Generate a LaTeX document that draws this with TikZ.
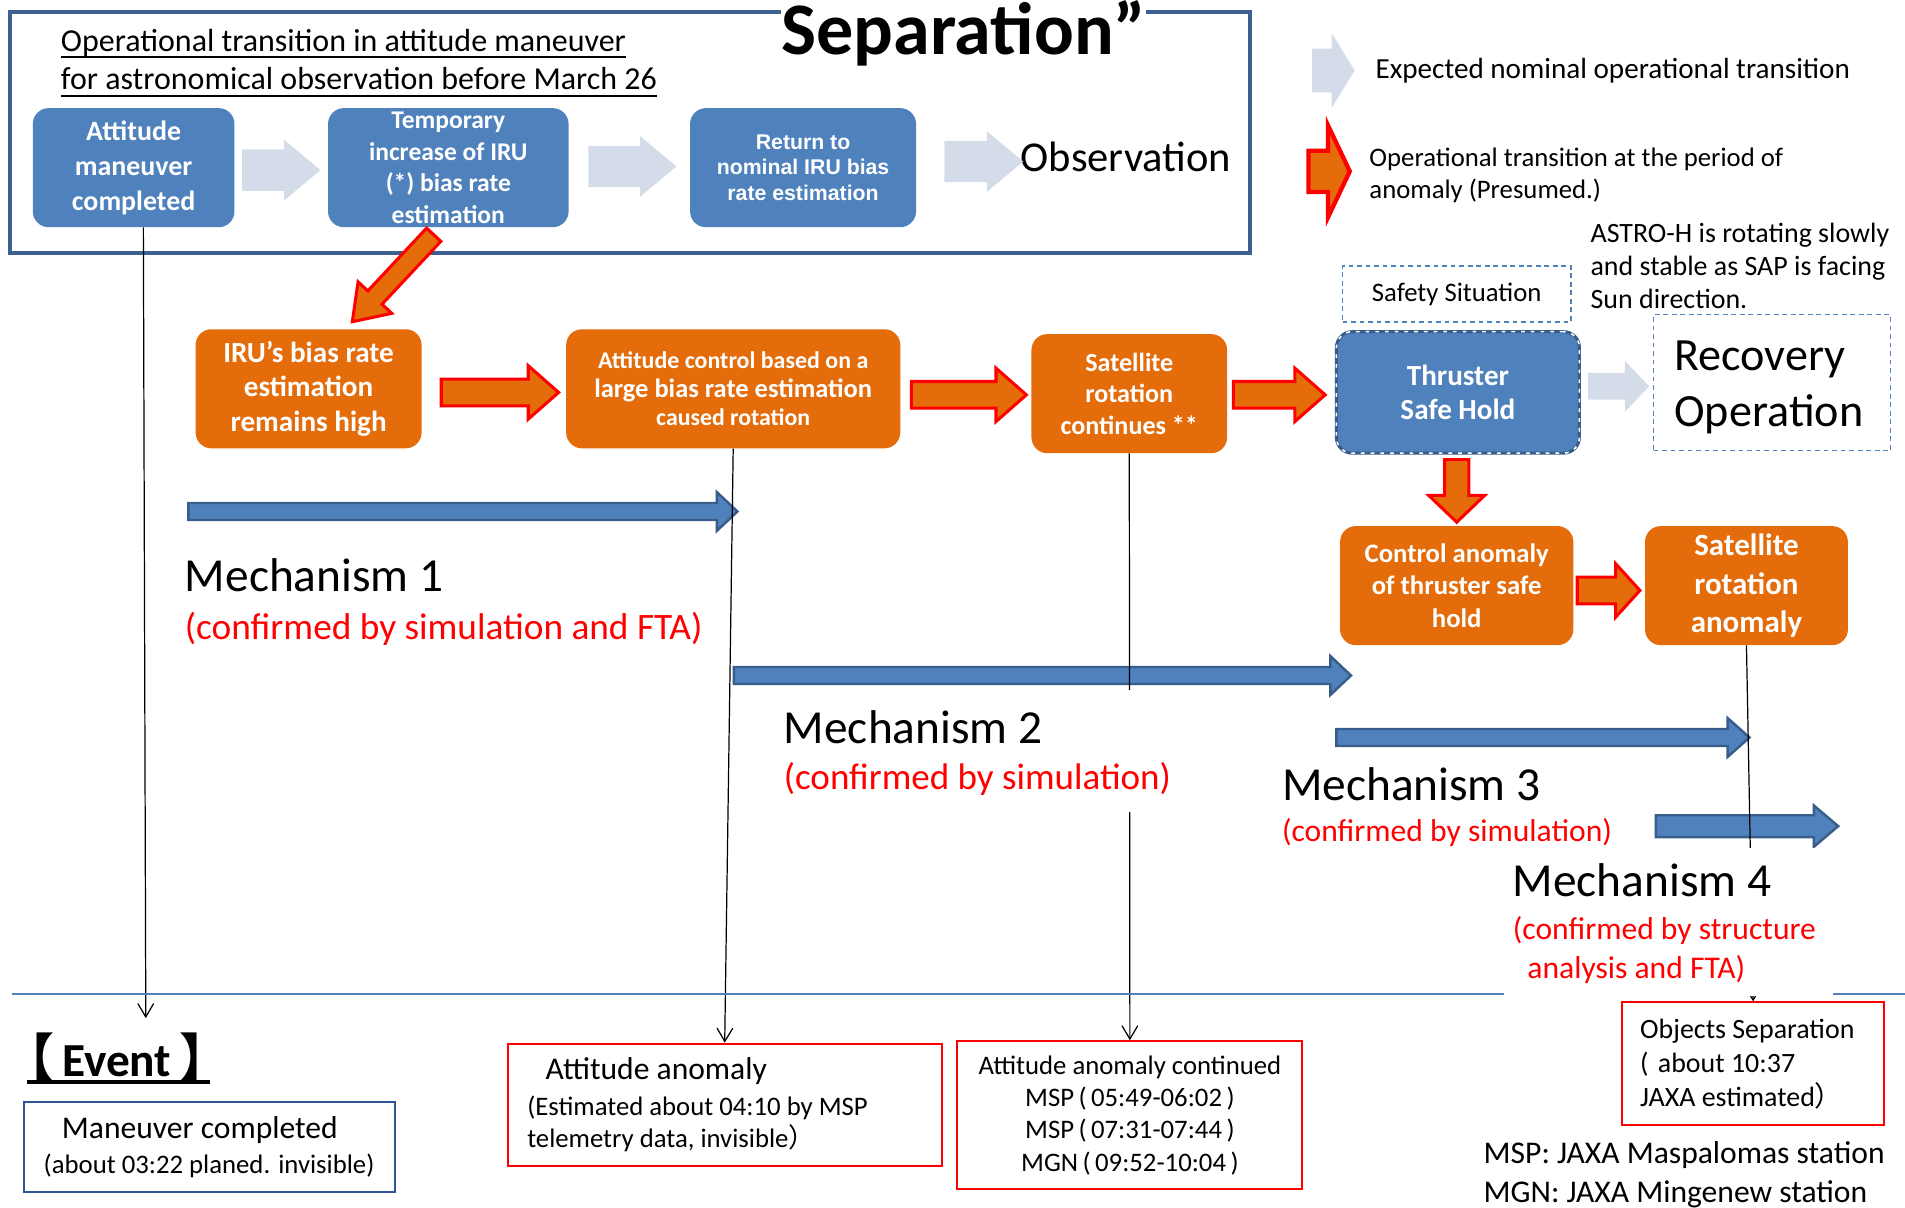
\documentclass[tikz,border=0pt]{standalone}
\usepackage{fontspec}
\setmainfont{Carlito}
\newfontfamily\cjk{Noto Sans CJK JP}
\newfontfamily\arialf{Liberation Sans}
\usetikzlibrary{calc,arrows.meta}
\definecolor{boxblue}{HTML}{4F81BD}
\definecolor{darkblue}{HTML}{385D8A}
\definecolor{framecol}{HTML}{3C6090}
\definecolor{boxorange}{HTML}{E46C0A}
\definecolor{lightarr}{HTML}{D5DCE9}
\definecolor{eventblue}{HTML}{2F5597}
\newcommand\fs[2]{\fontsize{#1}{#2}\selectfont}
\newcommand\frp{{\cjk ）}}
\newcommand\myul[3]{\leavevmode\setbox0=\hbox{#3}\rlap{\vrule height -#1 depth \dimexpr#1+#2\relax width \wd0}\box0}
% #1 style, #2 from, #3 to, #4 half shaft, #5 half head, #6 head length
\newcommand\blockarrow[6]{%
 \path[#1] let \p1=(#2), \p2=(#3), \n1={atan2(\y2-\y1,\x2-\x1)}, \n2={veclen(\x2-\x1,\y2-\y1)} in
  ($(\p1)+({\n1+90}:#4)$) -- ($(\p1)+({\n1}:{\n2-#6})+({\n1+90}:#4)$) -- ($(\p1)+({\n1}:{\n2-#6})+({\n1+90}:#5)$) -- (\p2)
  -- ($(\p1)+({\n1}:{\n2-#6})+({\n1-90}:#5)$) -- ($(\p1)+({\n1}:{\n2-#6})+({\n1-90}:#4)$) -- ($(\p1)+({\n1-90}:#4)$) -- cycle;}
\tikzset{
 bluebox/.style={rectangle, rounded corners=13pt, fill=boxblue, text=white, align=center, inner sep=0pt},
 orangebox/.style={rectangle, rounded corners=13pt, fill=boxorange, text=white, align=center, inner sep=0pt},
 nomarrow/.style={fill=lightarr},
 anomarrow/.style={fill=boxorange, draw=red, line width=2.5pt, line join=miter},
 mecharrow/.style={fill=boxblue, draw=darkblue, line width=2pt, line join=miter},
 eventbox/.style={rectangle, draw=red, line width=1.6pt, inner sep=0pt},
 timeline/.style={draw=black, line width=1pt, -{Straight Barb[length=11pt,width=13pt]}},
 plain/.style={inner sep=0pt, anchor=base west},
 dashbox/.style={rectangle, draw=boxblue, line width=1.2pt, dash pattern=on 4pt off 3pt, inner sep=0pt},
}
\begin{document}
\begin{tikzpicture}[x=1pt,y=1pt]
\useasboundingbox (0,0) rectangle (1568,-994);
% top frame
\node[draw=framecol, line width=3.5pt, minimum width=1021pt, minimum height=198pt, inner sep=0pt] (frame) at (518.5,-109) {};
\node[plain, fill=white, font=\bfseries\fs{61}{70}] (sep) at (643,-45) {Separation”};
\node[plain, font=\fs{26.3}{30}] (title1) at (50,-42) {\myul{4pt}{1.6pt}{Operational transition in attitude maneuver}};
\node[plain, font=\fs{26.3}{30}] (title2) at (50,-74) {\myul{4pt}{1.6pt}{for astronomical observation before March 26}};
% blue boxes
\node[bluebox, minimum width=166pt, minimum height=98pt, font=\bfseries\fs{23}{29}] (b1) at (110,-138) {\raisebox{-3pt}{\parbox{150pt}{\centering Attitude\\maneuver\\completed}}};
\node[bluebox, minimum width=198pt, minimum height=98pt, font=\bfseries\fs{21}{26}] (b2) at (369,-138) {\raisebox{-2pt}{\parbox{190pt}{\centering Temporary\\increase of IRU\\(*) bias rate\\estimation}}};
\node[bluebox, minimum width=186pt, minimum height=98pt, font=\arialf\bfseries\fs{17.5}{21}] (b3) at (661,-138) {Return to\\nominal IRU bias\\rate estimation};
\node[plain, font=\fs{35}{42}] (obs) at (840,-141) {Observation};
% nominal arrows
\blockarrow{nomarrow}{$(b1.east)+(6,-2)$}{$(b2.west)+(-6,-2)$}{17}{25}{30}
\blockarrow{nomarrow}{$(b2.east)+(16,1)$}{$(b3.west)+(-11,1)$}{17}{25}{30}
\blockarrow{nomarrow}{$(b3.east)+(23,5)$}{$(b3.east)+(88,5)$}{17}{25}{30}
% legend
\coordinate (lg1a) at (1080,-58);
\coordinate (lg1b) at (1115,-58);
\blockarrow{nomarrow}{lg1a}{lg1b}{18}{31}{19}
\coordinate (lg2a) at (1077,-141);
\coordinate (lg2b) at (1111,-141);
\blockarrow{anomarrow, line width=3.5pt}{lg2a}{lg2b}{17}{38}{18}
\node[plain, font=\fs{24}{28}] (lgt1) at (1132,-65) {Expected nominal operational transition};
\node[plain, font=\fs{22}{26}] (lgt2) at (1127,-137) {Operational transition at the period of};
\node[plain, font=\fs{22}{26}] (lgt3) at (1127,-163) {anomaly (Presumed.)};
\node[plain, font=\fs{23}{27}] (astro1) at (1309,-200) {ASTRO-H is rotating slowly};
\node[plain, font=\fs{23}{27}] (astro2) at (1309,-227) {and stable as SAP is facing};
\node[plain, font=\fs{23}{27}] (astro3) at (1309,-254) {Sun direction.};
% safety
\node[dashbox, minimum width=188pt, minimum height=46pt, font=\fs{22}{26}] (safety) at (1199,-242) {Safety Situation};
\node[dashbox, minimum width=195pt, minimum height=112pt] (rec) at (1458.5,-315) {};
\node[plain, font=\fs{38}{44}] (recA) at (1378,-305) {Recovery};
\node[plain, font=\fs{38}{44}] (recB) at (1378,-351) {Operation};
% orange boxes
\node[orangebox, minimum width=186pt, minimum height=98pt, font=\bfseries\fs{24}{28.5}] (iru) at (254,-320) {\raisebox{-2pt}{\parbox{180pt}{\centering IRU’s bias rate\\estimation\\remains high}}};
\node[orangebox, minimum width=275pt, minimum height=98pt, font=\bfseries\fs{20}{23.5}] (att) at (603.5,-320) {{\fs{19.7}{23.5}Attitude control based on a}\\{\fs{21.8}{23.5}large bias rate estimation}\\{\fs{19.6}{23.5}caused rotation}};
\node[orangebox, minimum width=161pt, minimum height=98pt, font=\bfseries\fs{21.5}{26}] (sat) at (929.5,-324) {Satellite\\rotation\\continues **};
\node[bluebox, minimum width=200pt, minimum height=100pt, draw=darkblue, line width=2.5pt, postaction={draw=white, line width=1.3pt, dash pattern=on 3pt off 5pt}, font=\bfseries\fs{24}{28}] (thr) at (1200,-323) {Thruster\\Safe Hold};
\node[orangebox, minimum width=192pt, minimum height=98pt, font=\bfseries\fs{22}{26.5}] (ctl) at (1199,-482) {Control anomaly\\of thruster safe\\hold};
\node[orangebox, minimum width=167pt, minimum height=98pt, font=\bfseries\fs{25.5}{31.5}] (sra) at (1437.5,-482) {\raisebox{-3pt}{\parbox{160pt}{\centering Satellite\\rotation\\anomaly}}};
% anomaly arrows
\blockarrow{anomarrow}{$(b2.south)+(-12,-6)$}{$(iru.north)+(36,6)$}{8}{19}{27}
\blockarrow{anomarrow}{$(iru.east)+(16,-3)$}{$(att.west)+(-6,-3)$}{11}{22}{25}
\blockarrow{anomarrow}{$(att.east)+(9,-5)$}{$(sat.west)+(-4,-1)$}{11}{22}{25}
\blockarrow{anomarrow}{$(sat.east)+(5,-1)$}{$(thr.west)+(-8,-2)$}{11}{22}{25}
\blockarrow{anomarrow}{$(thr.south)+(-1,-4)$}{$(ctl.north)+(0,3)$}{10}{23}{22}
\blockarrow{anomarrow}{$(ctl.east)+(3,-4)$}{$(sra.west)+(-4,-4)$}{11}{22}{20}
\blockarrow{nomarrow}{$(thr.east)+(6,5)$}{$(rec.west)+(-3,-3)$}{11}{21}{20}
% mechanism arrows
\coordinate (m1a) at (155,-421); \coordinate (m1b) at (607,-421);
\coordinate (m2a) at (604,-556); \coordinate (m2b) at (1112,-556);
\coordinate (m3a) at (1100,-607); \coordinate (m3b) at (1440,-607);
\coordinate (m4a) at (1363,-680); \coordinate (m4b) at (1513,-680);
\blockarrow{mecharrow}{m1a}{m1b}{7}{16}{17}
\blockarrow{mecharrow}{m2a}{m2b}{7}{16}{17}
\blockarrow{mecharrow}{m3a}{m3b}{7}{16}{18}
\blockarrow{mecharrow}{m4a}{m4b}{9}{17}{20}
% event boxes
\node[rectangle, draw=eventblue, line width=1.6pt, minimum width=305pt, minimum height=74pt, inner sep=0pt, inner xsep=16pt, text width=273pt, align=flush left, font=\fs{22}{29}] (man) at (172.5,-944) {\hspace*{15pt}{\fs{26}{29}Maneuver completed}\\\mbox{(about 03:22 planed. invisible)}};
\node[eventbox, minimum width=357pt, minimum height=101pt, text width=325pt, inner xsep=16pt, align=flush left, font=\fs{22}{27}] (aan) at (596.5,-909.5) {\hspace*{15pt}{\fs{26}{29}Attitude anomaly}\\[2pt](Estimated about 04:10 by MSP\\telemetry data, invisible\frp};
\node[eventbox, minimum width=284pt, minimum height=122pt, align=center, font=\fs{22}{26.7}] (acn) at (930,-918) {Attitude anomaly continued\\MSP\,(\,05:49-06:02\,)\\MSP\,(\,07:31-07:44\,)\\MGN\,(\,09:52-10:04\,)};
\node[eventbox, minimum width=216pt, minimum height=101pt, text width=186pt, inner xsep=15pt, align=flush left, font=\fs{23}{28}] (obj) at (1443,-875.5) {Objects Separation\\(\,\,about 10:37\\JAXA estimated\frp};
% timelines
\coordinate (v1top) at ($(b1.south)+(8,0)$);
\coordinate (v1end) at (120,-838);
\draw[timeline] (v1top) -- (v1end);
\draw[timeline] (att.south) -- (aan.north);
\draw[timeline] (sat.south) -- (acn.north);
\draw[timeline] (sra.south) -- (obj.north);
\coordinate (hl1) at (10,-818); \coordinate (hl2) at (1568,-818);
\draw[boxblue, line width=1.5pt] (hl1) -- (hl2);
% mechanism labels
\node[plain, font=\fs{39}{44}] (mech1) at (152,-487) {Mechanism 1};
\node[plain, font=\fs{30.7}{36}, text=red] (conf1) at (152,-526) {(confirmed by simulation and FTA)};
\node[fill=white, minimum width=330pt, minimum height=100pt, inner sep=0pt] (m2cover) at (805,-618) {};
\node[plain, font=\fs{39}{44}] (mech2) at (645,-612) {Mechanism 2};
\node[plain, font=\fs{30.5}{36}, text=red] (conf2) at (645,-650) {(confirmed by simulation)};
\node[plain, font=\fs{39}{44}] (mech3) at (1055,-659) {Mechanism 3};
\node[plain, font=\fs{26}{31}, text=red] (conf3) at (1055,-693) {(confirmed by simulation)};
\node[fill=white, minimum width=271pt, minimum height=122pt, inner sep=0pt] (m4cover) at (1373.5,-759) {};
\node[plain, font=\fs{39}{44}] (mech4) at (1245,-738) {Mechanism 4};
\node[plain, font=\fs{26}{31}, text=red] (conf4a) at (1245,-773) {(confirmed by structure};
\node[plain, font=\fs{26}{31}, text=red] (conf4b) at (1257,-805) {analysis and FTA)};
% event title and notes
\node[plain, font=\bfseries\fs{39}{44}] (event) at (22,-886) {\myul{3pt}{3.5pt}{\kern-19pt{\cjk\bfseries\fs{42}{44}【}\kern6pt Event\kern7pt{\cjk\bfseries\fs{42}{44}】}\kern-17pt}};
\node[plain, font=\fs{26}{30}] (msp) at (1221,-958) {MSP: JAXA Maspalomas station};
\node[plain, font=\fs{26}{30}] (mgn) at (1221,-990) {MGN: JAXA Mingenew station};
\end{tikzpicture}
\end{document}
